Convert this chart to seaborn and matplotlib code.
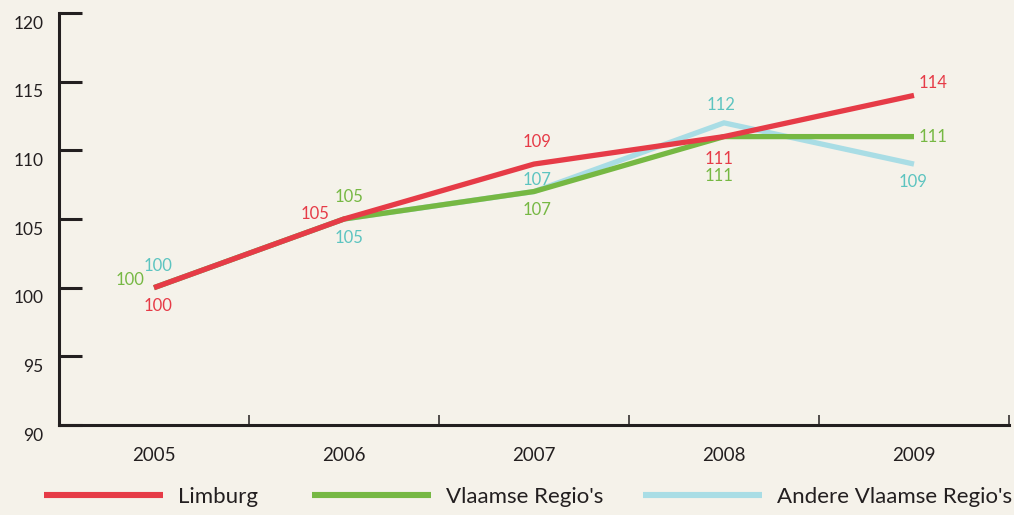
import matplotlib
matplotlib.use("Agg")
import matplotlib.pyplot as plt
import matplotlib.transforms as mtransforms
from matplotlib.ticker import FixedLocator
from matplotlib.lines import Line2D
import seaborn as sns
import pandas as pd

years = [2005, 2006, 2007, 2008, 2009]
limburg = [100, 105, 109, 111, 114]
vlaamse = [100, 105, 107, 111, 111]
andere = [100, 105, 107, 112, 109]
series_names = ["Limburg", "Vlaamse Regio's", "Andere Vlaamse Regio's"]
y_ticks = [90, 95, 100, 105, 110, 115, 120]

line_colors = {"Limburg": "#e63b47", "Vlaamse Regio's": "#76b843", "Andere Vlaamse Regio's": "#a9dde5"}
text_colors = {"Limburg": "#e63b47", "Vlaamse Regio's": "#76b843", "Andere Vlaamse Regio's": "#5cc4c0"}
# label offsets in pixels, one per year
label_offsets = {
    "Limburg": [(4, -18), (-29, 5), (3, 22), (-5, -22), (19, 12)],
    "Vlaamse Regio's": [(-24, 8), (5, 22), (3, -18), (-5, -39), (19, 0)],
    "Andere Vlaamse Regio's": [(4, 22), (5, -19), (3, 12), (-3, 18), (-1, -18)],
}
# legend entry start positions (figure pixels)
legend_x = [44, 312, 643]

df = pd.concat([
    pd.DataFrame({"year": years, "value": limburg, "regio": "Limburg"}),
    pd.DataFrame({"year": years, "value": vlaamse, "regio": "Vlaamse Regio's"}),
    pd.DataFrame({"year": years, "value": andere, "regio": "Andere Vlaamse Regio's"}),
])

bg = "#f5f2ea"
ink = "#231f20"
sns.set_theme(style="white")
plt.rcParams["font.family"] = ["Lato", "DejaVu Sans"]

fig = plt.figure(figsize=(10.14, 5.15), dpi=100, facecolor=bg)
ax = fig.add_axes([59 / 1014, 1 - 425 / 515, 950 / 1014, 412 / 515])
ax.set_facecolor(bg)

draw_order = ["Andere Vlaamse Regio's", "Vlaamse Regio's", "Limburg"]
sns.lineplot(data=df, x="year", y="value", hue="regio", hue_order=draw_order,
             palette=line_colors, linewidth=3.8, ax=ax, legend=False)
for line in ax.get_lines():
    line.set_solid_capstyle("butt")
    line.set_solid_joinstyle("miter")

for name in series_names:
    sub = df[df["regio"] == name]
    for (x, v), off in zip(zip(sub["year"], sub["value"]), label_offsets[name]):
        ax.annotate(str(v), (x, v), xytext=off, textcoords="offset pixels",
                    ha="center", va="center", fontsize=12, color=text_colors[name])

ax.set_xlim(2004.5, 2009.5)
ax.set_ylim(90, 120)
ax.set_xlabel("")
ax.set_ylabel("")
for s in ["top", "right"]:
    ax.spines[s].set_visible(False)
for s in ["left", "bottom"]:
    ax.spines[s].set_color(ink)
    ax.spines[s].set_linewidth(2.2)

ax.set_xticks(years)
ax.set_xticklabels([str(y) for y in years])
ax.xaxis.set_minor_locator(FixedLocator([y + 0.5 for y in years]))
ax.tick_params(axis="x", which="major", length=0, pad=16, labelsize=13.5, labelcolor=ink)
ax.tick_params(axis="x", which="minor", direction="in", length=7, width=1.1, color=ink, bottom=True)
ax.set_yticks(y_ticks)
ax.tick_params(axis="y", which="major", direction="in", length=16.5, width=2.2, color=ink,
               pad=11, labelsize=12.5, labelcolor=ink, left=True)
shift = mtransforms.ScaledTranslation(0, -9 / 100, fig.dpi_scale_trans)
for lbl in ax.get_yticklabels():
    lbl.set_transform(lbl.get_transform() + shift)

for name, xpx in zip(series_names, legend_x):
    handle = Line2D([], [], color=line_colors[name], linewidth=4.4, solid_capstyle="butt")
    leg = fig.legend([handle], [name], loc="center left",
                     bbox_to_anchor=(xpx / 1014, 1 - 497 / 515), frameon=False,
                     fontsize=16, handlelength=5.36, handletextpad=0.68,
                     borderpad=0, borderaxespad=0)
    for t in leg.get_texts():
        t.set_color(ink)

fig.savefig("out.png", dpi=100, facecolor=bg)
